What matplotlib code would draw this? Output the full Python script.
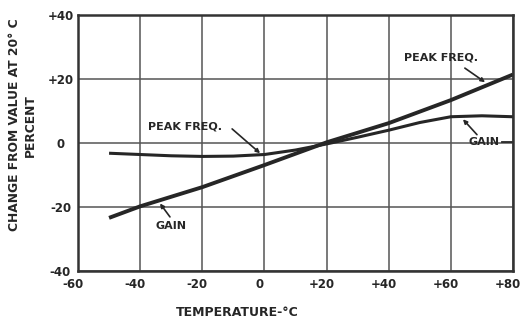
import matplotlib.pyplot as plt
import matplotlib.transforms as mtransforms

# near-straight line (labelled PEAK FREQ. on the right, GAIN on the left)
line_t = [-50, -40, -20, 0, 20, 40, 60, 80]
line_v = [-23.4, -19.8, -13.8, -6.9, 0.2, 6.2, 13.4, 21.4]

# flat curve
curve_t = [-50, -40, -30, -20, -10, 0, 10, 20, 30, 40, 50, 60, 70, 80]
curve_v = [-3.2, -3.6, -4.0, -4.2, -4.1, -3.6, -2.2, -0.3, 1.8, 4.0, 6.4, 8.2, 8.5, 8.2]

xticks = [-60, -40, -20, 0, 20, 40, 60, 80]
xlabels = ['-60', '-40', '-20', '0', '+20', '+40', '+60', '+80']
yticks = [-40, -20, 0, 20, 40]
ylabels = ['-40', '-20', '0', '+20', '+40']

ink = '#262626'
plt.rcParams['font.family'] = 'DejaVu Sans'
plt.rcParams['font.weight'] = 'bold'
plt.rcParams['axes.labelweight'] = 'bold'

fig = plt.figure(figsize=(5.22, 3.21), dpi=100)
ax = fig.add_axes([0.1494, 0.1558, 0.8334, 0.7975])

ax.plot(line_t, line_v, color=ink, lw=2.8, solid_capstyle='butt')
ax.plot(curve_t, curve_v, color=ink, lw=2.2, solid_capstyle='butt')

ax.set_xlim(-60, 80)
ax.set_ylim(-40, 40)
ax.set_xticks(xticks)
ax.set_xticklabels(xlabels)
ax.set_yticks(yticks)
ax.set_yticklabels(ylabels, ha='center')
ax.tick_params(length=0, labelsize=8.5, colors=ink)
ax.tick_params(axis='y', pad=12.6)
ax.tick_params(axis='x', pad=5)
shift = mtransforms.ScaledTranslation(-5 / 100, 0, fig.dpi_scale_trans)
for lab in ax.get_xticklabels():
    lab.set_transform(lab.get_transform() + shift)

ax.grid(True, color='#555555', lw=1.1)
ax.set_axisbelow(True)
for s in ax.spines.values():
    s.set_color('#333333')
    s.set_linewidth(1.8)

ax.set_xlabel('TEMPERATURE-°C', fontsize=9, color=ink)
ax.xaxis.set_label_coords(0.366, -0.135)
ax.set_ylabel('CHANGE FROM VALUE AT 20° C\nPERCENT', fontsize=8.8, color=ink,
              linespacing=1.3)
ax.yaxis.set_label_coords(-0.094, 0.57)

arrow = dict(arrowstyle='-|>', color=ink, lw=1.2, mutation_scale=6, shrinkA=0, shrinkB=0)
ax.text(56.8, 26.6, 'PEAK FREQ.', fontsize=8, color=ink, ha='center', va='center')
ax.annotate('', xy=(71, 19.0), xytext=(64.5, 23.4), arrowprops=arrow)
ax.text(70.7, 0.3, 'GAIN', fontsize=8, color=ink, ha='center', va='center')
ax.annotate('', xy=(63.9, 7.4), xytext=(68.4, 2.6), arrowprops=arrow)
ax.plot([76.4, 80], [0.3, 0.3], color=ink, lw=1.3)
ax.text(-25.6, 5.0, 'PEAK FREQ.', fontsize=8, color=ink, ha='center', va='center')
ax.annotate('', xy=(-1.4, -3.2), xytext=(-10.4, 4.4), arrowprops=arrow)
ax.text(-30.1, -25.9, 'GAIN', fontsize=8, color=ink, ha='center', va='center')
ax.annotate('', xy=(-33.6, -18.9), xytext=(-30.4, -23.1), arrowprops=arrow)

fig.savefig('out.png', dpi=100)
